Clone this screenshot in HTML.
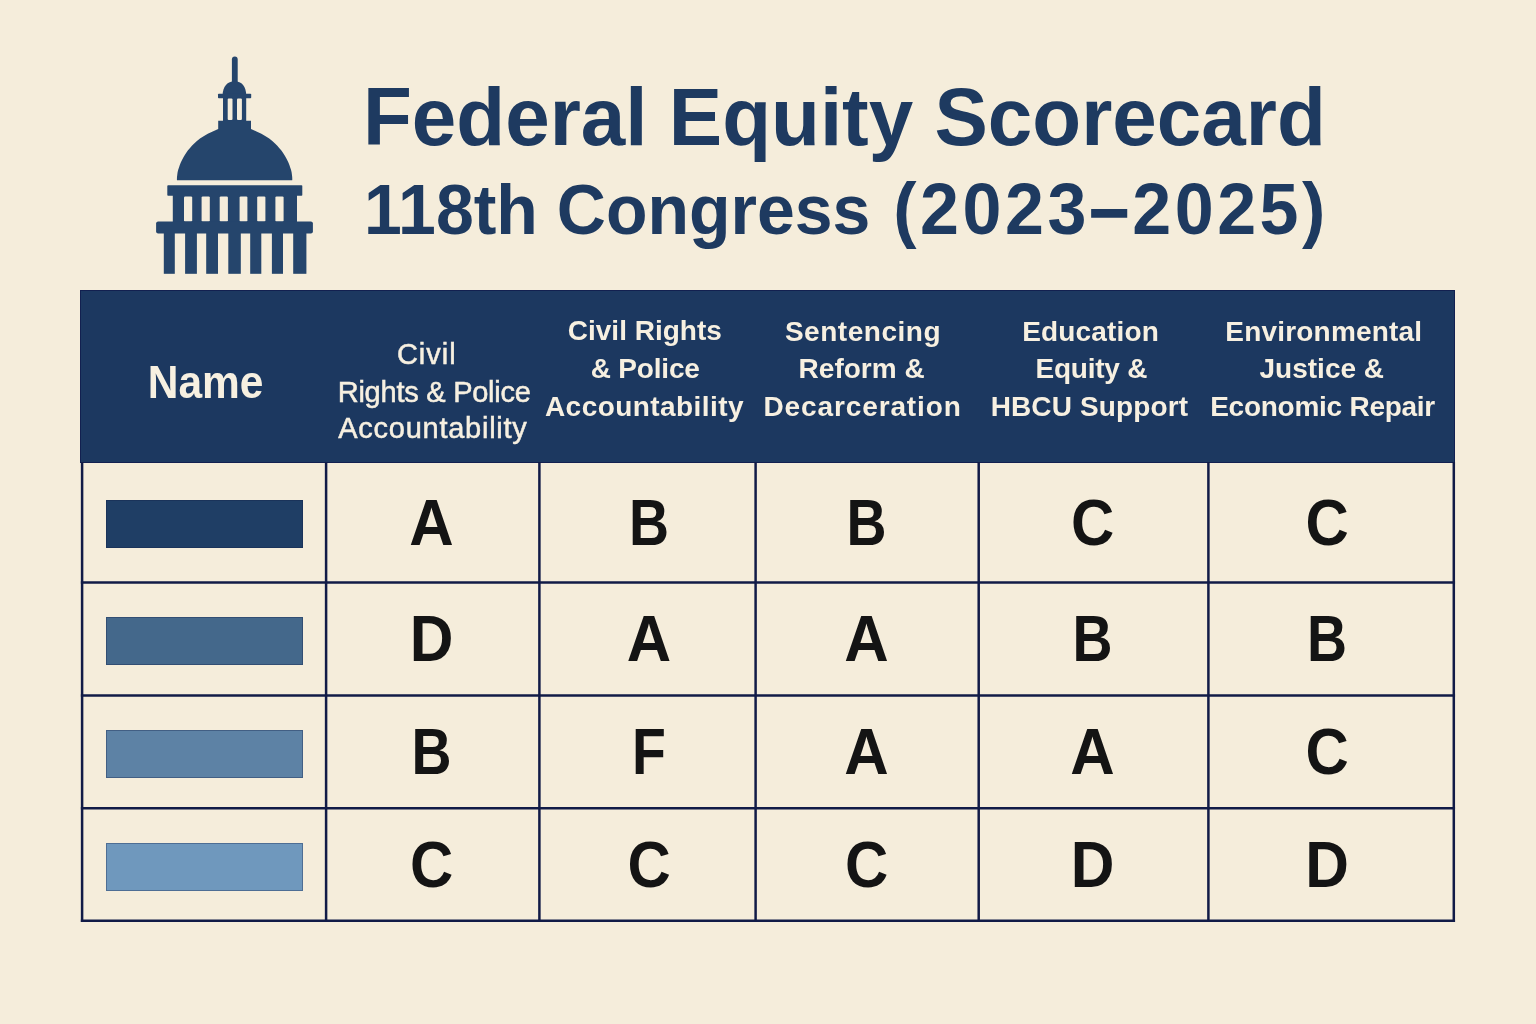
<!DOCTYPE html>
<html lang="en">
<head>
<meta charset="utf-8">
<title>Federal Equity Scorecard</title>
<style>
html,body{margin:0;padding:0;}
body{width:1536px;height:1024px;background:#f5eddb;position:relative;overflow:hidden;
  font-family:"Liberation Sans",Arial,sans-serif;}
.abs{position:absolute;}
.t1,.t2{position:absolute;white-space:nowrap;color:#1e3a60;font-weight:bold;line-height:1;margin:0;}
.t1{left:363px;top:77.5px;font-size:80px;word-spacing:-1px;transform:scaleY(1.03);transform-origin:0 72px;}
.t2{left:364px;top:175px;font-size:68px;transform:scaleY(1.03);transform-origin:0 62px;}
.t2 .d{-webkit-text-stroke:1.4px #1e3a60;position:relative;top:-1px;}
.t2 span{letter-spacing:3.5px;font-size:70px;margin-left:4px;}
#icon{position:absolute;left:150px;top:50px;width:170px;height:230px;}
.hdr{position:absolute;left:80px;top:290px;width:1375px;height:173px;background:#1c3860;box-shadow:inset 0 0 0 1px #122050;}
.ln{position:absolute;white-space:nowrap;line-height:1;color:#f7f0e1;-webkit-text-stroke:0.5px #f7f0e1;}
.ln.b{font-weight:bold;-webkit-text-stroke:0;}
.cell{position:absolute;color:#141414;font-weight:bold;font-size:63px;transform:scaleY(1.02);line-height:1;text-align:center;white-space:nowrap;}
.gA{transform:scale(0.977,1.02);}
.gB{transform:scale(0.88,1.02);}
.gC{transform:scale(0.95,1.02);}
.gD{transform:scale(0.96,1.02);}
.gF{transform:scale(0.88,1.02);}
.bar{position:absolute;left:106px;width:197px;height:48px;box-shadow:inset 0 0 0 1px rgba(16,32,72,.35);}
</style>
</head>
<body>
<svg id="icon" viewBox="150 50 170 230">
 <g fill="#25456c">
  <rect x="231.9" y="56.5" width="5.8" height="30" rx="2.9"/>
  <path d="M222.6 95.5 C222.6 86.5 227.5 81.3 234.6 81.3 C241.7 81.3 246.2 86.5 246.2 95.5 Z"/>
  <rect x="218" y="93.8" width="33.2" height="4.4" rx="0.8"/>
  <rect x="223" y="97.5" width="23.2" height="24"/>
  <rect x="227.7" y="98.6" width="4.8" height="21.4" rx="1" fill="#f5eddb"/>
  <rect x="237" y="98.6" width="4.9" height="21.4" rx="1" fill="#f5eddb"/>
  <path d="M218.2 120.8 L251.0 120.8 L251.0 129.0 L256.5 131.4 L261.4 133.8 L265.6 136.2 L269.2 138.6 L272.3 141.0 L275.0 143.4 L277.3 145.8 L279.4 148.2 L281.4 150.6 L283.1 153.0 L284.7 155.4 L286.0 157.8 L287.3 160.2 L288.4 162.6 L289.4 165.0 L290.2 167.4 L291.0 169.8 L291.6 172.2 L291.9 174.6 L292.2 177.0 L292.3 179.4 L292.2 180.2 L177.0 180.2 L176.9 179.4 L177.0 177.0 L177.3 174.6 L177.6 172.2 L178.2 169.8 L179.0 167.4 L179.8 165.0 L180.8 162.6 L181.9 160.2 L183.2 157.8 L184.5 155.4 L186.1 153.0 L187.8 150.6 L189.8 148.2 L191.9 145.8 L194.2 143.4 L196.9 141.0 L200.0 138.6 L203.6 136.2 L207.8 133.8 L212.7 131.4 L218.2 129.0 Z"/>
  <rect x="167.3" y="185.2" width="135" height="10.5" rx="0.8"/>
  <rect x="172.8" y="195" width="124.2" height="28"/>
  <rect x="184" y="196.4" width="8.2" height="25" rx="1.2" fill="#f5eddb"/>
  <rect x="201.6" y="196.4" width="8.2" height="25" rx="1.2" fill="#f5eddb"/>
  <rect x="219.7" y="196.4" width="8.2" height="25" rx="1.2" fill="#f5eddb"/>
  <rect x="239.6" y="196.4" width="7.8" height="25" rx="1.2" fill="#f5eddb"/>
  <rect x="257.2" y="196.4" width="8.2" height="25" rx="1.2" fill="#f5eddb"/>
  <rect x="275.4" y="196.4" width="8.2" height="25" rx="1.2" fill="#f5eddb"/>
  <rect x="156.1" y="221.6" width="156.8" height="11.8" rx="2"/>
  <rect x="163.8" y="232" width="11" height="41.8"/>
  <rect x="185.1" y="232" width="11.8" height="41.8"/>
  <rect x="206.2" y="232" width="11.8" height="41.8"/>
  <rect x="228.3" y="232" width="12.5" height="41.8"/>
  <rect x="250.2" y="232" width="11.1" height="41.8"/>
  <rect x="271.9" y="232" width="11.1" height="41.8"/>
  <rect x="293.2" y="232" width="13.2" height="41.8"/>
 </g>
</svg>

<h1 class="t1">Federal Equity Scorecard</h1>
<h2 class="t2">118th Congress <span>(2023<b class="d">–</b>2025)</span></h2>

<div class="hdr"></div>
<div class="ln b" style="left:205.6px;top:362.9px;font-size:42.5px;letter-spacing:0px;transform:translateX(-50%) scaleY(1.07);transform-origin:50% 36.4px;">Name</div>
<div class="ln" style="left:426.8px;top:340.4px;font-size:29px;letter-spacing:1px;transform:translateX(-50%) scaleY(1);transform-origin:50% 24.5px;">Civil</div>
<div class="ln" style="left:434.2px;top:377.8px;font-size:29px;letter-spacing:-0.25px;transform:translateX(-50%) scaleY(1);transform-origin:50% 24.5px;">Rights &amp; Police</div>
<div class="ln" style="left:432.9px;top:413.9px;font-size:29px;letter-spacing:0.75px;transform:translateX(-50%) scaleY(1);transform-origin:50% 24.5px;">Accountability</div>
<div class="ln b" style="left:644.8px;top:317.4px;font-size:28px;letter-spacing:0px;transform:translateX(-50%) scaleY(1);transform-origin:50% 23.7px;">Civil Rights</div>
<div class="ln b" style="left:645.2px;top:354.7px;font-size:28px;letter-spacing:-0.2px;transform:translateX(-50%) scaleY(1);transform-origin:50% 23.7px;">&amp; Police</div>
<div class="ln b" style="left:644.5px;top:392.9px;font-size:28px;letter-spacing:0.44px;transform:translateX(-50%) scaleY(1);transform-origin:50% 23.7px;">Accountability</div>
<div class="ln b" style="left:863.0px;top:317.7px;font-size:28px;letter-spacing:0.53px;transform:translateX(-50%) scaleY(1);transform-origin:50% 23.7px;">Sentencing</div>
<div class="ln b" style="left:861.6px;top:354.9px;font-size:28px;letter-spacing:0px;transform:translateX(-50%) scaleY(1);transform-origin:50% 23.7px;">Reform &amp;</div>
<div class="ln b" style="left:862.6px;top:392.9px;font-size:28px;letter-spacing:0.875px;transform:translateX(-50%) scaleY(1);transform-origin:50% 23.7px;">Decarceration</div>
<div class="ln b" style="left:1090.6px;top:317.7px;font-size:28px;letter-spacing:0.15px;transform:translateX(-50%) scaleY(1);transform-origin:50% 23.7px;">Education</div>
<div class="ln b" style="left:1091.3px;top:354.7px;font-size:28px;letter-spacing:-0.24px;transform:translateX(-50%) scaleY(1);transform-origin:50% 23.7px;">Equity &amp;</div>
<div class="ln b" style="left:1089.4px;top:392.9px;font-size:28px;letter-spacing:0.12px;transform:translateX(-50%) scaleY(1);transform-origin:50% 23.7px;">HBCU Support</div>
<div class="ln b" style="left:1323.8px;top:317.7px;font-size:28px;letter-spacing:0.2px;transform:translateX(-50%) scaleY(1);transform-origin:50% 23.7px;">Environmental</div>
<div class="ln b" style="left:1321.8px;top:355.1px;font-size:28px;letter-spacing:0px;transform:translateX(-50%) scaleY(1);transform-origin:50% 23.7px;">Justice &amp;</div>
<div class="ln b" style="left:1322.6px;top:392.6px;font-size:28px;letter-spacing:-0.26px;transform:translateX(-50%) scaleY(1);transform-origin:50% 23.7px;">Economic Repair</div>

<!-- grid lines -->
<svg class="abs" style="left:0;top:0;" width="1536" height="1024" viewBox="0 0 1536 1024">
 <g stroke="#111b47" stroke-width="2.5" fill="none">
  <line x1="82.1" y1="462" x2="82.1" y2="922.05"/>
  <line x1="326.1" y1="462" x2="326.1" y2="922.05"/>
  <line x1="539.4" y1="462" x2="539.4" y2="922.05"/>
  <line x1="755.6" y1="462" x2="755.6" y2="922.05"/>
  <line x1="978.7" y1="462" x2="978.7" y2="922.05"/>
  <line x1="1208.4" y1="462" x2="1208.4" y2="922.05"/>
  <line x1="1453.8" y1="462" x2="1453.8" y2="922.05"/>
  <line x1="80.85" y1="582.6" x2="1455.05" y2="582.6"/>
  <line x1="80.85" y1="695.5" x2="1455.05" y2="695.5"/>
  <line x1="80.85" y1="808.3" x2="1455.05" y2="808.3"/>
  <line x1="80.85" y1="920.8" x2="1455.05" y2="920.8"/>
 </g>
</svg>

<!-- name bars -->
<div class="bar" style="top:500.2px;background:#1f3e65;"></div>
<div class="bar" style="top:617px;background:#44688b;"></div>
<div class="bar" style="top:729.5px;background:#5d82a5;"></div>
<div class="bar" style="top:842.5px;background:#6f98bd;"></div>

<!-- grades -->
<div class="cell gA" style="left:325px;width:213px;top:491.5px;">A</div>
<div class="cell gB" style="left:540.5px;width:216px;top:491.5px;">B</div>
<div class="cell gB" style="left:755.4px;width:223px;top:491.5px;">B</div>
<div class="cell gC" style="left:978px;width:229px;top:491.5px;">C</div>
<div class="cell gC" style="left:1209px;width:236px;top:491.5px;">C</div>

<div class="cell gD" style="left:325px;width:213px;top:608px;">D</div>
<div class="cell gA" style="left:540.5px;width:216px;top:608px;">A</div>
<div class="cell gA" style="left:755.4px;width:223px;top:608px;">A</div>
<div class="cell gB" style="left:978px;width:229px;top:608px;">B</div>
<div class="cell gB" style="left:1209px;width:236px;top:608px;">B</div>

<div class="cell gB" style="left:325px;width:213px;top:720.8px;">B</div>
<div class="cell gF" style="left:540.5px;width:216px;top:720.8px;">F</div>
<div class="cell gA" style="left:755.4px;width:223px;top:720.8px;">A</div>
<div class="cell gA" style="left:978px;width:229px;top:720.8px;">A</div>
<div class="cell gC" style="left:1209px;width:236px;top:720.8px;">C</div>

<div class="cell gC" style="left:325px;width:213px;top:833.5px;">C</div>
<div class="cell gC" style="left:540.5px;width:216px;top:833.5px;">C</div>
<div class="cell gC" style="left:755.4px;width:223px;top:833.5px;">C</div>
<div class="cell gD" style="left:978px;width:229px;top:833.5px;">D</div>
<div class="cell gD" style="left:1209px;width:236px;top:833.5px;">D</div>
</body>
</html>
